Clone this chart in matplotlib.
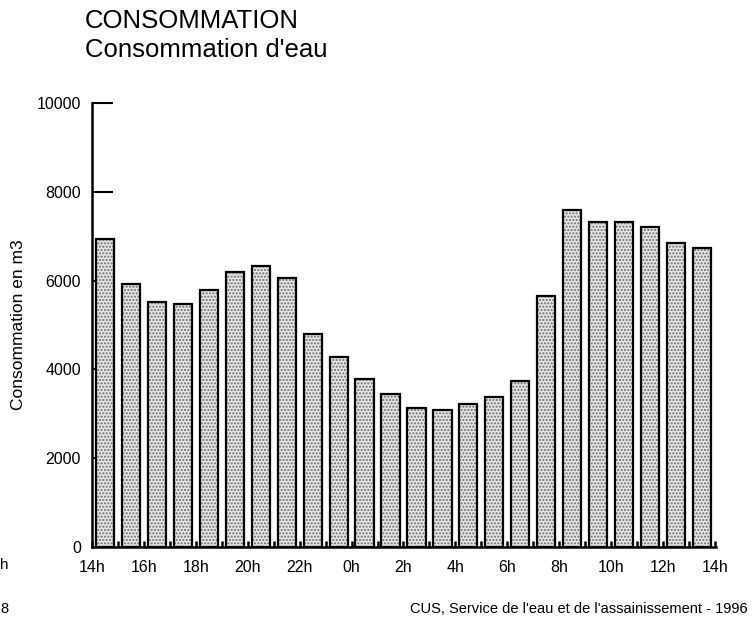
import matplotlib
matplotlib.use('Agg')
import matplotlib.pyplot as plt
import numpy as np

plt.rcParams['font.family'] = ['Liberation Sans', 'DejaVu Sans']

# consommation horaire, de 14h a 13h (une barre par heure)
heures = list(range(24))
conso = [6940, 5930, 5510, 5470, 5780, 6200, 6340, 6060, 4790, 4270,
         3780, 3450, 3130, 3090, 3220, 3390, 3730, 5660, 7600, 7320,
         7330, 7200, 6840, 6730]
tick_pos = list(range(0, 25, 2))
tick_labels = ['14h', '16h', '18h', '20h', '22h', '0h', '2h', '4h',
               '6h', '8h', '10h', '12h', '14h']
y_ticks = [0, 2000, 4000, 6000, 8000, 10000]

fig = plt.figure(figsize=(7.54, 6.3), dpi=100)
ax = fig.add_axes([0.122, 0.1317, 0.828, 0.7048])

x = np.array(heures) + 0.15
# remplissage pointille
ax.bar(x, conso, width=0.7, align='edge', color='#e6e6e6',
       edgecolor='#6a6a6a', hatch='.....', linewidth=0, zorder=2)
# contour
ax.bar(x, conso, width=0.7, align='edge', fill=False,
       edgecolor='black', linewidth=1.6, zorder=3)

ax.set_xlim(0, 24.05)
ax.set_ylim(0, 10000)
ax.set_yticks(y_ticks)
ax.set_yticklabels([str(v) for v in y_ticks], fontsize=11.5)
ax.set_xticks(tick_pos)
ax.set_xticklabels(tick_labels, fontsize=11.5)
ax.set_xticks(range(25), minor=True)
ax.tick_params(axis='y', direction='in', length=15, width=1.5, pad=8)
ax.tick_params(axis='x', which='both', direction='in', length=4, width=1.8, pad=9)

for s in ['top', 'right']:
    ax.spines[s].set_visible(False)
ax.spines['left'].set_linewidth(1.8)
ax.spines['bottom'].set_linewidth(1.8)

ax.set_ylabel('Consommation en m3', fontsize=12.5)
ax.yaxis.set_label_coords(-0.105, 0.5)

fig.text(0.113, 0.967, 'CONSOMMATION', fontsize=18.5, ha='left', va='center')
fig.text(0.113, 0.92, "Consommation d'eau", fontsize=18.5, ha='left', va='center')
fig.text(0.992, 0.033, "CUS, Service de l'eau et de l'assainissement - 1996",
         fontsize=10.5, ha='right', va='center')
fig.text(0.0, 0.033, '8', fontsize=10.5, ha='left', va='center')
fig.text(0.0, 0.103, 'h', fontsize=11, ha='left', va='center')

fig.savefig('out.png', dpi=100)
